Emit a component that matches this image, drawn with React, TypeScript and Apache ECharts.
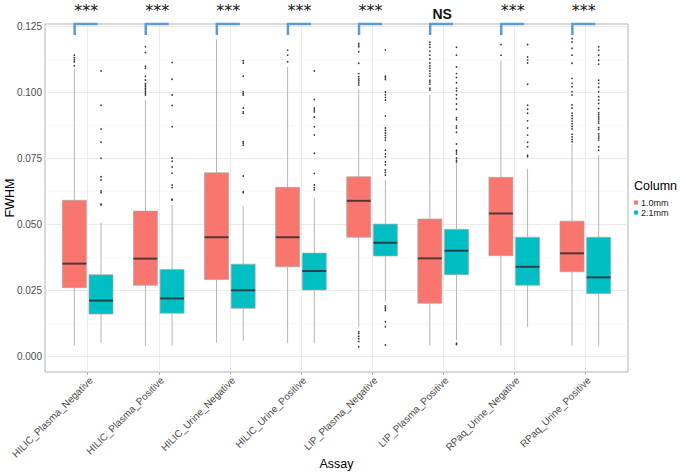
import React, { useEffect, useRef } from "react";
import * as echarts from "echarts";

// ---------- data ----------
const categories = [
  "HILIC_Plasma_Negative",
  "HILIC_Plasma_Positive",
  "HILIC_Urine_Negative",
  "HILIC_Urine_Positive",
  "LIP_Plasma_Negative",
  "LIP_Plasma_Positive",
  "RPaq_Urine_Negative",
  "RPaq_Urine_Positive",
];
const columnNames = ["1.0mm", "2.1mm"];
const columnColors = ["#F8766D", "#00BFC4"];

// [lower whisker, Q1, median, Q3, upper whisker]
const box10: number[][] = [
  [0.0039, 0.0259, 0.035, 0.059, 0.109],
  [0.0039, 0.0268, 0.0369, 0.0549, 0.097],
  [0.005, 0.029, 0.045, 0.0694, 0.12],
  [0.0048, 0.0338, 0.045, 0.0639, 0.1096],
  [0.0111, 0.045, 0.0588, 0.0679, 0.101],
  [0.0039, 0.02, 0.037, 0.0519, 0.0989],
  [0.0039, 0.038, 0.054, 0.0677, 0.112],
  [0.0039, 0.0319, 0.0389, 0.0511, 0.0805],
];
const box21: number[][] = [
  [0.005, 0.0159, 0.021, 0.0308, 0.0505],
  [0.0039, 0.0162, 0.0218, 0.0328, 0.0572],
  [0.0058, 0.0181, 0.0249, 0.0348, 0.0568],
  [0.0048, 0.025, 0.0322, 0.039, 0.06],
  [0.0206, 0.0379, 0.0429, 0.05, 0.0667],
  [0.006, 0.0308, 0.0399, 0.048, 0.073],
  [0.0109, 0.0268, 0.0338, 0.045, 0.071],
  [0.0039, 0.0237, 0.0298, 0.045, 0.0761],
];

const out10: number[][] = [
  [0.11, 0.1108, 0.1115, 0.1122, 0.113, 0.114, 0.12],
  [0.0989, 0.0995, 0.1001, 0.1008, 0.1014, 0.102, 0.1027, 0.1033, 0.104, 0.1046, 0.1053, 0.106, 0.1083, 0.109, 0.1098, 0.115, 0.1172],
  [],
  [0.1102, 0.1108, 0.1115, 0.114, 0.1159, 0.12],
  [0.0035, 0.0045, 0.0055, 0.0065, 0.0075, 0.0085, 0.0092, 0.1027, 0.1035, 0.1043, 0.105, 0.1058, 0.1065, 0.107, 0.1109, 0.1153, 0.1172, 0.1178, 0.1184],
  [0.1008, 0.1015, 0.1022, 0.103, 0.1038, 0.1045, 0.1053, 0.106, 0.107, 0.108, 0.109, 0.11, 0.111, 0.1125, 0.114, 0.1155, 0.117, 0.118, 0.119],
  [0.114, 0.118],
  [0.0812, 0.082, 0.083, 0.084, 0.085, 0.086, 0.087, 0.088, 0.089, 0.09, 0.091, 0.092, 0.093, 0.094, 0.0951, 0.0989, 0.1001, 0.102, 0.1033, 0.1052, 0.1077, 0.1096, 0.1109, 0.114, 0.1166, 0.119, 0.1203],
];
const out21: number[][] = [
  [0.0572, 0.0576, 0.0619, 0.0625, 0.0629, 0.0667, 0.0679, 0.0749, 0.0788, 0.081, 0.0838, 0.086, 0.095, 0.108],
  [0.0591, 0.0594, 0.0629, 0.0638, 0.0648, 0.0693, 0.0716, 0.0727, 0.0738, 0.075, 0.0838, 0.0869, 0.0949, 0.0989, 0.1049, 0.1112],
  [0.0619, 0.0622, 0.0682, 0.0799, 0.0806, 0.0812, 0.092, 0.0925, 0.094, 0.0989, 0.0995, 0.1001, 0.106, 0.111, 0.1119],
  [0.061, 0.0616, 0.063, 0.0638, 0.0648, 0.0692, 0.0768, 0.0837, 0.0869, 0.0906, 0.0925, 0.0932, 0.094, 0.0972, 0.108, 0.1188],
  [0.0042, 0.0111, 0.013, 0.0172, 0.0178, 0.0184, 0.019, 0.0686, 0.0695, 0.0705, 0.0715, 0.0725, 0.0735, 0.0745, 0.0755, 0.0765, 0.078, 0.0818, 0.0827, 0.0836, 0.0845, 0.0855, 0.0864, 0.0909, 0.097, 0.098, 0.099, 0.1, 0.101, 0.1048, 0.1054, 0.106, 0.116, 0.12],
  [0.0039, 0.0044, 0.0048, 0.0735, 0.0742, 0.075, 0.0758, 0.0765, 0.0773, 0.078, 0.0788, 0.0795, 0.0803, 0.0848, 0.0856, 0.0864, 0.0872, 0.0895, 0.0903, 0.0911, 0.0935, 0.0955, 0.0975, 0.099, 0.1005, 0.1015, 0.1035, 0.1055, 0.107, 0.1095, 0.112, 0.114, 0.117],
  [0.0755, 0.0761, 0.0793, 0.0801, 0.081, 0.0837, 0.0864, 0.0891, 0.092, 0.0935, 0.095, 0.0973, 0.103, 0.111, 0.1122, 0.1133, 0.118],
  [0.078, 0.0793, 0.0818, 0.0826, 0.0834, 0.0842, 0.085, 0.0858, 0.0866, 0.0874, 0.0882, 0.089, 0.0898, 0.0906, 0.0914, 0.0922, 0.093, 0.0938, 0.0957, 0.097, 0.0982, 0.1001, 0.1018, 0.1033, 0.1045, 0.1083, 0.1106, 0.1121, 0.114, 0.1159, 0.1172],
];

const significance = ["***", "***", "***", "***", "***", "NS", "***", "***"];
const yTickMin = 0;
const yTickMax = 0.125;
const yTickStep = 0.025;

// ---------- layout ----------
const PANEL = { left: 45, top: 24, width: 583, height: 348 };
const Y_MIN = -0.00606;
const Y_MAX = 0.1258;
const nCat = categories.length;
const catUnit = PANEL.width / (nCat - 1 + 1.2);
const dataLeft = PANEL.left + 0.1 * catUnit;
const dataWidth = nCat * catUnit;
const yPx = (v: number) =>
  PANEL.top + ((Y_MAX - v) / (Y_MAX - Y_MIN)) * PANEL.height;
const FONT = "Liberation Sans, Arial, sans-serif";

function boxSeries(g: number) {
  const rows = (g === 0 ? box10 : box21).map((b, i) => [i, ...b]);
  return {
    type: "custom",
    name: columnNames[g],
    xAxisIndex: 3,
    yAxisIndex: 3,
    itemStyle: { color: columnColors[g] },
    encode: { x: 0, y: [1, 2, 3, 4, 5] },
    data: rows,
    z: 3,
    renderItem: (params: any, api: any) => {
      const i = api.value(0);
      const band = api.size([1, 0])[0];
      const cx = api.coord([i, 0])[0] + (g === 0 ? -1 : 1) * 0.1875 * band;
      const bw = 0.3375 * band;
      const pLow = api.coord([i, api.value(1)])[1];
      const pQ1 = api.coord([i, api.value(2)])[1];
      const pMed = api.coord([i, api.value(3)])[1];
      const pQ3 = api.coord([i, api.value(4)])[1];
      const pHigh = api.coord([i, api.value(5)])[1];
      const wStyle = { stroke: "#b5b5b5", lineWidth: 1 };
      return {
        type: "group",
        children: [
          { type: "line", shape: { x1: cx, y1: pQ1, x2: cx, y2: pLow }, style: wStyle },
          { type: "line", shape: { x1: cx, y1: pQ3, x2: cx, y2: pHigh }, style: wStyle },
          {
            type: "rect",
            shape: { x: cx - bw / 2, y: pQ3, width: bw, height: pQ1 - pQ3 },
            style: { fill: columnColors[g], stroke: "#a8a8a8", lineWidth: 0.7 },
          },
          {
            type: "line",
            shape: { x1: cx - bw / 2, y1: pMed, x2: cx + bw / 2, y2: pMed },
            style: { stroke: "rgba(40,40,40,0.8)", lineWidth: 2 },
          },
        ],
      };
    },
  };
}

function outlierSeries(g: number) {
  const src = g === 0 ? out10 : out21;
  const rows: number[][] = [];
  src.forEach((vals, i) => vals.forEach((v) => rows.push([i, v])));
  return {
    type: "custom",
    name: "outliers " + columnNames[g],
    xAxisIndex: 3,
    yAxisIndex: 3,
    encode: { x: 0, y: 1 },
    data: rows,
    z: 4,
    renderItem: (params: any, api: any) => {
      const i = api.value(0);
      const band = api.size([1, 0])[0];
      const p = api.coord([i, api.value(1)]);
      const cx = p[0] + (g === 0 ? -1 : 1) * 0.1875 * band;
      return {
        type: "circle",
        shape: { cx, cy: p[1], r: 0.85 },
        style: { fill: "#3a3a3a" },
      };
    },
  };
}

const sigSeries = {
  type: "custom",
  name: "significance",
  xAxisIndex: 3,
  yAxisIndex: 3,
  encode: { x: 0 },
  clip: false,
  z: 5,
  data: significance.map((s, i) => [i, Y_MAX]),
  renderItem: (params: any, api: any) => {
    const i = api.value(0);
    const band = api.size([1, 0])[0];
    const p = api.coord([i, Y_MAX]);
    const cx = p[0];
    const top = p[1];
    const label = significance[i];
    const isNS = label === "NS";
    return {
      type: "group",
      children: [
        {
          type: "polyline",
          shape: {
            points: [
              [cx - 0.183 * band, top + 11],
              [cx - 0.183 * band, top],
              [cx + 0.14 * band, top],
            ],
          },
          style: { stroke: "#5b9bd5", lineWidth: 2.5, fill: null },
        },
        {
          type: "text",
          x: isNS ? cx - 1 : cx - 1.5,
          y: isNS ? 13.5 : 10,
          style: {
            text: label,
            fontFamily: isNS ? FONT : "DejaVu Sans",
            fontSize: isNS ? 14 : 16,
            fontWeight: isNS ? "bold" : "normal",
            fill: "#111",
            align: "center",
            verticalAlign: "middle",
          },
        },
      ],
    };
  },
};

export default function App() {
  const ref = useRef<HTMLDivElement>(null);
  useEffect(() => {
    document.body.style.margin = "0";
    if (!ref.current) return;
    const chart = echarts.init(ref.current, undefined, { renderer: "svg" });
    const hidden = { show: false };
    const gridBase = { containLabel: false, outerBoundsMode: "none" };
    const option: any = {
      animation: false,
      backgroundColor: "#ffffff",
      textStyle: { fontFamily: FONT },
      grid: [
        {
          ...gridBase,
          left: PANEL.left, top: PANEL.top, width: PANEL.width, height: PANEL.height,
          show: true, borderColor: "#b3b3b3", borderWidth: 1, backgroundColor: "transparent",
        },
        {
          ...gridBase,
          left: PANEL.left, top: yPx(yTickMax), width: PANEL.width,
          height: yPx(yTickMin) - yPx(yTickMax),
        },
        {
          ...gridBase,
          left: dataLeft + catUnit / 2, top: PANEL.top, width: (nCat - 1) * catUnit, height: PANEL.height,
        },
        { ...gridBase, left: dataLeft, top: PANEL.top, width: dataWidth, height: PANEL.height },
      ],
      xAxis: [
        { gridIndex: 0, type: "value", min: 0, max: 1, ...hidden },
        { gridIndex: 1, type: "value", min: 0, max: 1, ...hidden },
        {
          gridIndex: 2, type: "value", min: 0, max: nCat - 1, interval: 1,
          axisLine: hidden, axisTick: hidden, axisLabel: hidden,
          splitLine: { show: true, lineStyle: { color: "#ebebeb", width: 1 } },
        },
        {
          gridIndex: 3, type: "category", data: categories, boundaryGap: true,
          position: "bottom",
          axisLine: { show: false, onZero: false },
          axisTick: { show: true, alignWithLabel: true, length: 3, lineStyle: { color: "#b3b3b3" } },
          axisLabel: {
            rotate: 45, interval: 0, fontSize: 10, color: "#4d4d4d", margin: 3, fontFamily: FONT,
            align: "right", verticalAlign: "top",
          },
          splitLine: hidden,
          name: "Assay", nameLocation: "middle", nameGap: 85, nameMoveOverlap: false,
          nameTextStyle: { fontSize: 12.5, color: "#000", fontFamily: FONT },
        },
      ],
      yAxis: [
        { gridIndex: 0, type: "value", min: Y_MIN, max: Y_MAX, ...hidden },
        {
          gridIndex: 1, type: "value", min: yTickMin, max: yTickMax, interval: yTickStep,
          axisLine: hidden, axisTick: hidden,
          axisLabel: {
            color: "#4d4d4d", fontSize: 10, margin: 3, fontFamily: FONT,
            formatter: (v: number) => v.toFixed(3),
          },
          splitLine: { show: true, lineStyle: { color: "#ebebeb", width: 1 } },
          minorTick: { show: false, splitNumber: 2 },
          minorSplitLine: { show: true, lineStyle: { color: "#f5f5f5", width: 0.6 } },
        },
        { gridIndex: 2, type: "value", min: 0, max: 1, ...hidden },
        {
          gridIndex: 3, type: "value", min: Y_MIN, max: Y_MAX, interval: -Y_MIN,
          axisLine: { show: false, onZero: false }, axisTick: hidden, axisLabel: hidden, splitLine: hidden,
          name: "FWHM", nameLocation: "middle", nameGap: 36, nameMoveOverlap: false,
          nameTextStyle: { fontSize: 12.5, color: "#000", fontFamily: FONT },
        },
      ],
      legend: {
        data: columnNames,
        orient: "vertical",
        left: 634,
        top: 198,
        icon: "rect",
        itemWidth: 4,
        itemHeight: 4,
        itemGap: 1,
        padding: 0,
        textStyle: { fontSize: 9, color: "#222", lineHeight: 7, fontFamily: FONT, padding: [0, 0, 0, -2] },
        selectedMode: false,
      },
      graphic: [
        {
          type: "text",
          left: 634,
          top: 179,
          style: { text: "Column", fontSize: 12.5, fill: "#000", fontFamily: FONT },
        },
      ],
      series: [boxSeries(0), boxSeries(1), outlierSeries(0), outlierSeries(1), sigSeries],
    };
    chart.setOption(option);
    return () => chart.dispose();
  }, []);
  return <div ref={ref} style={{ width: 681, height: 473 }} />;
}
